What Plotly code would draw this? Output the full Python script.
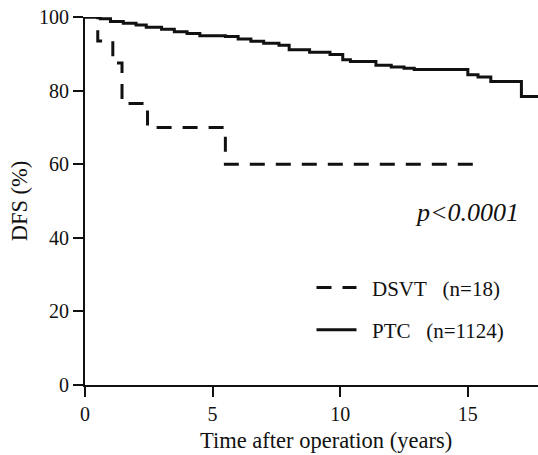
import plotly.graph_objects as go

# DSVT (n=18) Kaplan-Meier steps
dsvt_t = [0, 0.5, 1.09, 1.45, 2.45, 5.5, 15.4]
dsvt_s = [100, 93.5, 87.5, 76.5, 70.0, 60.0, 60.0]

# PTC (n=1124) Kaplan-Meier steps
ptc_t = [0, 0.6, 1.0, 1.5, 2.0, 2.4, 3.0, 3.5, 4.0, 4.5, 5.5, 6.0, 6.5, 7.0, 7.6,
         8.0, 8.8, 9.6, 10.1, 10.4, 11.4, 12.0, 12.5, 12.9, 15.0, 15.4, 15.9, 17.1, 17.75]
ptc_s = [100, 99.5, 98.8, 98.3, 97.8, 97.2, 96.7, 96.0, 95.5, 94.9, 94.7, 94.0, 93.4, 92.9, 92.3,
         91.1, 90.4, 89.8, 88.4, 87.9, 86.9, 86.4, 86.1, 85.7, 84.3, 83.7, 82.5, 78.4, 78.4]

x_ticks = [0, 5, 10, 15]
y_ticks = [0, 20, 40, 60, 80, 100]

SERIF = "Liberation Serif, Times New Roman, serif"
NB = "\u00a0"

fig = go.Figure()
fig.add_trace(go.Scatter(
    x=dsvt_t, y=dsvt_s, mode="lines", line_shape="hv",
    line=dict(color="#111111", width=3, dash="15px,11px"),
    name=NB * 2 + "DSVT" + NB * 3 + "(n=18)", legendgroup="a", cliponaxis=False))
fig.add_trace(go.Scatter(
    x=ptc_t, y=ptc_s, mode="lines", line_shape="hv",
    line=dict(color="#111111", width=3),
    name=NB * 2 + "PTC" + NB * 3 + "(n=1124)", legendgroup="b", cliponaxis=False))

fig.add_annotation(x=14.95, y=46.8, xref="x", yref="y", text="<i>p&lt;0.0001</i>",
                   showarrow=False, font=dict(family=SERIF, size=26, color="#111111"))

fig.add_annotation(x=0.533, y=-0.151, xref="paper", yref="paper",
                   text="Time after operation (years)", showarrow=False,
                   xanchor="center", yanchor="middle",
                   font=dict(family=SERIF, size=22.5, color="#111111"))

axis_common = dict(showgrid=False, zeroline=False, showline=True, linecolor="#111111",
                   linewidth=2, ticks="outside", ticklen=10, tickwidth=2, tickcolor="#111111",
                   tickfont=dict(family=SERIF, size=20, color="#111111"))

fig.update_layout(
    width=538, height=455,
    margin=dict(l=85, r=0, t=17, b=70),
    paper_bgcolor="white", plot_bgcolor="white",
    font=dict(family=SERIF, size=20, color="#111111"),
    showlegend=True,
    legend=dict(x=0.5, y=0.207, xanchor="left", yanchor="middle", bgcolor="rgba(0,0,0,0)",
                font=dict(family=SERIF, size=21, color="#111111"),
                tracegroupgap=12, itemwidth=40),
    xaxis=dict(range=[0, 17.75], tickvals=x_ticks, **axis_common),
    yaxis=dict(range=[0, 100], tickvals=y_ticks,
               title=dict(text="DFS (%)", standoff=5, font=dict(family=SERIF, size=22.5)),
               **axis_common),
)

fig.write_html("out.html")
